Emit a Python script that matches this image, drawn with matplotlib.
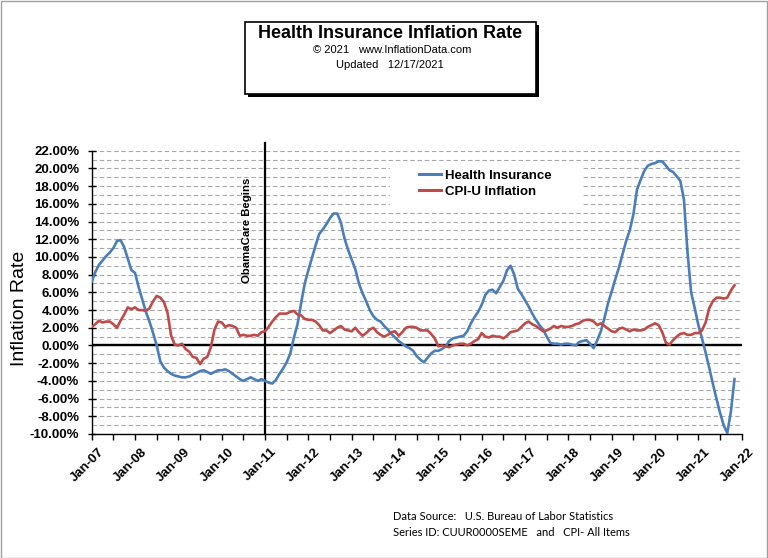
import numpy as np
import matplotlib
matplotlib.use("Agg")
import matplotlib.pyplot as plt
from matplotlib.patches import Rectangle
from matplotlib.lines import Line2D
from matplotlib.transforms import ScaledTranslation

# ---------------- data ----------------
year_labels = ["Jan-07", "Jan-08", "Jan-09", "Jan-10", "Jan-11", "Jan-12", "Jan-13", "Jan-14",
               "Jan-15", "Jan-16", "Jan-17", "Jan-18", "Jan-19", "Jan-20", "Jan-21", "Jan-22"]

# Health Insurance CPI, year-over-year %, monthly Jan-2007 .. Nov-2021
health_insurance = [
    7.2, 8.3, 9.1, 9.6, 10.1, 10.5, 11.0, 11.8, 11.9, 11.1, 9.8, 8.5,          # 2007
    8.2, 6.6, 5.2, 3.8, 2.7, 1.4, 0.0, -1.8, -2.5, -2.9, -3.2, -3.4,           # 2008
    -3.5, -3.6, -3.6, -3.5, -3.3, -3.1, -2.9, -2.8, -3.0, -3.2, -3.0, -2.8,    # 2009
    -2.8, -2.7, -2.9, -3.2, -3.5, -3.8, -4.0, -3.8, -3.6, -3.8, -4.0, -3.8,    # 2010
    -4.0, -4.2, -4.3, -3.9, -3.2, -2.6, -1.9, -0.9, 0.9, 2.4, 4.8, 7.0,        # 2011
    8.5, 9.9, 11.3, 12.6, 13.1, 13.7, 14.4, 14.9, 14.9, 13.9, 12.1, 10.8,      # 2012
    9.7, 8.6, 7.0, 5.9, 5.0, 4.0, 3.3, 2.9, 2.7, 2.2, 1.8, 1.3,                # 2013
    0.9, 0.5, 0.2, -0.1, -0.3, -0.6, -1.2, -1.6, -1.9, -1.4, -0.9, -0.6,       # 2014
    -0.6, -0.4, -0.1, 0.5, 0.8, 0.9, 1.0, 1.1, 1.6, 2.5, 3.2, 3.8,             # 2015
    4.6, 5.7, 6.2, 6.3, 5.9, 6.6, 7.3, 8.5, 9.0, 8.0, 6.4, 5.8,                # 2016
    5.1, 4.4, 3.6, 2.9, 2.3, 1.8, 1.0, 0.3, 0.2, 0.2, 0.1, 0.2,                # 2017
    0.2, 0.1, 0.0, 0.4, 0.5, 0.6, 0.2, -0.3, 0.6, 1.6, 3.1, 4.8,               # 2018
    6.1, 7.5, 8.8, 10.3, 11.8, 13.0, 14.8, 17.6, 18.7, 19.7, 20.3, 20.5,       # 2019
    20.6, 20.8, 20.8, 20.3, 19.8, 19.6, 19.1, 18.6, 16.5, 10.5, 6.0, 4.2,      # 2020
    2.3, 0.8, -0.8, -2.5, -4.3, -6.0, -7.6, -9.0, -9.9, -7.5, -3.8,            # 2021
]

# CPI-U all items, year-over-year %, monthly Jan-2007 .. Nov-2021
cpi_u = [
    2.1, 2.4, 2.8, 2.6, 2.7, 2.7, 2.4, 2.0, 2.8, 3.5, 4.3, 4.1,                # 2007
    4.3, 4.0, 4.0, 3.9, 4.2, 5.0, 5.6, 5.4, 4.9, 3.7, 1.1, 0.1,                # 2008
    0.0, 0.2, -0.4, -0.7, -1.3, -1.4, -2.1, -1.5, -1.3, -0.2, 1.8, 2.7,        # 2009
    2.6, 2.1, 2.3, 2.2, 2.0, 1.1, 1.2, 1.1, 1.1, 1.2, 1.1, 1.5,                # 2010
    1.6, 2.1, 2.7, 3.2, 3.6, 3.6, 3.6, 3.8, 3.9, 3.5, 3.4, 3.0,                # 2011
    2.9, 2.9, 2.7, 2.3, 1.7, 1.7, 1.4, 1.7, 2.0, 2.2, 1.8, 1.7,                # 2012
    1.6, 2.0, 1.5, 1.1, 1.4, 1.8, 2.0, 1.5, 1.2, 1.0, 1.2, 1.5,                # 2013
    1.6, 1.1, 1.5, 2.0, 2.1, 2.1, 2.0, 1.7, 1.7, 1.7, 1.3, 0.8,                # 2014
    -0.1, 0.0, -0.1, -0.2, 0.0, 0.1, 0.2, 0.2, 0.0, 0.2, 0.5, 0.7,             # 2015
    1.4, 1.0, 0.9, 1.1, 1.0, 1.0, 0.8, 1.1, 1.5, 1.6, 1.7, 2.1,                # 2016
    2.5, 2.7, 2.4, 2.2, 1.9, 1.6, 1.7, 1.9, 2.2, 2.0, 2.2, 2.1,                # 2017
    2.1, 2.2, 2.4, 2.5, 2.8, 2.9, 2.9, 2.7, 2.3, 2.5, 2.2, 1.9,                # 2018
    1.6, 1.5, 1.9, 2.0, 1.8, 1.6, 1.8, 1.7, 1.7, 1.8, 2.1, 2.3,                # 2019
    2.5, 2.3, 1.5, 0.3, 0.1, 0.6, 1.0, 1.3, 1.4, 1.2, 1.2, 1.4,                # 2020
    1.4, 1.7, 2.6, 4.2, 5.0, 5.4, 5.4, 5.3, 5.4, 6.2, 6.8,                     # 2021
]

series_names = ["Health Insurance", "CPI-U Inflation"]
obamacare_month = 48   # Jan-11, months after Jan-07
y_ticks = list(range(-10, 23, 2))

# ---------------- figure ----------------
plt.rcParams["font.family"] = ["Liberation Sans", "DejaVu Sans"]
W, H = 768, 558
fig = plt.figure(figsize=(W / 100, H / 100), dpi=100)
fig.patch.set_facecolor("white")

def fx(px):
    return px / W

def fy(py):
    return 1 - py / H

ax_l, ax_r, ax_t, ax_b = 91.7, 741.7, 150.7, 434.0
ax = fig.add_axes([fx(ax_l), fy(ax_b), fx(ax_r - ax_l), (ax_b - ax_t) / H])

months = np.arange(len(health_insurance))
blue = "#4A7EBB"
red = "#BE4B48"

ax.plot(months, health_insurance, color=blue, lw=1.9, label=series_names[0], zorder=4,
        solid_joinstyle="round")
ax.plot(months, cpi_u, color=red, lw=1.9, label=series_names[1], zorder=4,
        solid_joinstyle="round")

ax.set_xlim(0, 180)
ax.set_ylim(-10, 22)

# gridlines every 1%
ax.set_yticks(y_ticks)
ax.set_yticks(range(-10, 23, 1), minor=True)
ax.set_yticklabels([f"{v:.2f}%" for v in y_ticks], fontsize=9.5, fontweight="bold")
ax.yaxis.grid(True, which="both", color="#A8A8A8", lw=0.8, dashes=(4, 2.5))
ax.set_axisbelow(True)
ax.tick_params(axis="y", which="major", direction="inout", length=6, width=1, pad=6)
ax.tick_params(axis="y", which="minor", length=0)

ax.set_xticks(range(0, 181, 12))
ax.set_xticks(range(6, 180, 12), minor=True)
ax.set_xticklabels(year_labels, fontsize=9.5, fontweight="bold", rotation=45,
                   ha="right", va="top", rotation_mode="anchor")
ax.tick_params(axis="x", which="both", direction="out", length=4, width=1, pad=3)
shift = ScaledTranslation(0.06, -0.02, fig.dpi_scale_trans)
for lab in ax.get_xticklabels():
    lab.set_transform(lab.get_transform() + shift)

for s in ["top", "right"]:
    ax.spines[s].set_visible(False)
for s in ["left", "bottom"]:
    ax.spines[s].set_color("black")
    ax.spines[s].set_linewidth(1.0)

# zero line
ax.axhline(0, color="black", lw=1.7, zorder=3)

# ObamaCare line
ax.axvline(obamacare_month, ymin=0, ymax=1.027, color="black", lw=1.6, clip_on=False, zorder=3)
ax.annotate("ObamaCare Begins", xy=(obamacare_month, 0.718),
            xycoords=("data", "axes fraction"), xytext=(-13, 0), textcoords="offset points",
            rotation=90, ha="center", va="center", fontsize=8.2, fontweight="bold")

# legend background (white box hiding gridlines)
ax.add_patch(Rectangle((fx(390), fy(207)), fx(583 - 390), (207 - 162) / H,
                       transform=fig.transFigure, facecolor="white", edgecolor="none",
                       zorder=1))
leg = ax.legend(loc="upper left", bbox_to_anchor=(fx(419), fy(169.5)),
                bbox_transform=fig.transFigure, frameon=False, borderpad=0,
                borderaxespad=0, handlelength=1.65, handletextpad=0.3,
                labelspacing=0.3, prop={"size": 9.5, "weight": "bold"})
for line in leg.get_lines():
    line.set_linewidth(2.2)

# y label
fig.text(fx(20), fy(308.5), "Inflation Rate", rotation=90, ha="center", va="center",
         fontsize=14)

# title box with shadow
bx0, bx1, by0, by1 = 245, 536, 21.7, 94
fig.patches.append(Rectangle((fx(bx0 + 3), fy(by1 + 3)), fx(bx1 - bx0), (by1 - by0) / H,
                             transform=fig.transFigure, facecolor="black",
                             edgecolor="black", lw=0, zorder=1))
fig.patches.append(Rectangle((fx(bx0), fy(by1)), fx(bx1 - bx0), (by1 - by0) / H,
                             transform=fig.transFigure, facecolor="white",
                             edgecolor="black", lw=1.2, zorder=2))
cx = (bx0 + bx1) / 2
fig.text(fx(cx), fy(34), "Health Insurance Inflation Rate", ha="center", va="center",
         fontsize=13, fontweight="bold", zorder=3)
fig.text(fx(349), fy(50), "\u00a9 2021", ha="right", va="center", fontsize=8, zorder=3)
url = fig.text(fx(357.7), fy(50), "www.InflationData.com", ha="left", va="center",
               fontsize=8, zorder=3)
fig.text(fx(cx - 0.5), fy(65.5), "Updated   12/17/2021", ha="center", va="center",
         fontsize=8, zorder=3)

# data source
fig.text(fx(393), fy(517), "Data Source:   U.S. Bureau of Labor Statistics",
         ha="left", va="center", fontsize=8, family=["Lato", "DejaVu Sans"])
fig.text(fx(393), fy(533), "Series ID: CUUR0000SEME   and   CPI- All Items",
         ha="left", va="center", fontsize=8, family=["Lato", "DejaVu Sans"])

# underline url
fig.canvas.draw()
bb = url.get_window_extent()
fig.add_artist(Line2D([bb.x0 / W, bb.x1 / W], [fy(55.5), fy(55.5)],
                      transform=fig.transFigure, color="black", lw=0.6))

# outer gray border
fig.add_artist(Rectangle((0.5 / W, 0.5 / H), 1 - 1.5 / W, 1 - 1.5 / H,
                         transform=fig.transFigure, fill=False, edgecolor="#A0A0A0",
                         lw=1.0))

fig.savefig("out.png", dpi=100)
